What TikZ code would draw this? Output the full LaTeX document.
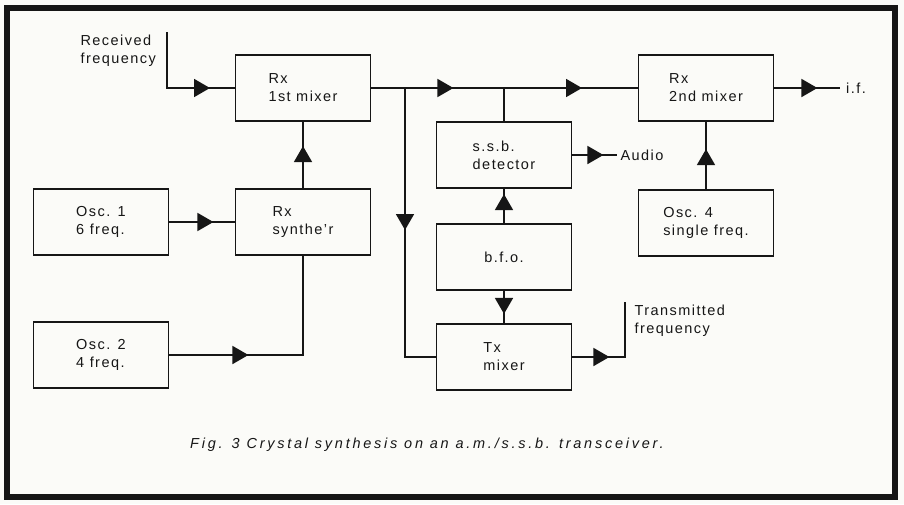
\documentclass[tikz,border=0pt]{standalone}
\usepackage{fontspec}
\setmainfont{Liberation Sans}[LetterSpace=10]
\usepackage{tikz}
\usetikzlibrary{arrows.meta, positioning, decorations.markings}
\definecolor{myink}{RGB}{22,22,22}
\definecolor{mypaper}{RGB}{251,251,248}
\tikzset{
  block/.style={rectangle, draw=myink, text=myink,
    minimum width=135pt, minimum height=66pt, align=left,
    font=\fontsize{14.5}{18}\selectfont, line width=1.8pt},
  wire/.style={line width=1.8pt, color=myink},
  midarrow/.style={postaction={decorate}, decoration={markings,
    mark=at position #1 with {\arrow{Triangle[length=16pt, width=18pt]}}}}
}

\begin{document}
\begin{tikzpicture}[x=1pt, y=-1pt,
  lbl/.style={font=\fontsize{14.5}{18}\selectfont, text=myink, align=left}
]
\useasboundingbox (0,0) rectangle (904,504);
\fill[mypaper] (0,0) rectangle (904,504);
\draw[myink, line width=6pt] (7,8) rectangle (895,497);

% Receiver chain
\node[block] (mix1) at (303,88) {Rx\\1st mixer};
\node[block] (mix2) at (706,88) {Rx\\2nd mixer};
\node[block] (synth) at (303,222) {Rx\\synthe'r};
\node[block] (osc1) at (101,222) {Osc. 1\\6 freq.};
\node[block] (osc2) at (101,355) {Osc. 2\\4 freq.};
\node[block] (osc4) at (706,223) {Osc. 4\\single freq.};

% Detector and transmit side
\node[block] (ssb) at (504,155) {s.s.b.\\detector};
\node[block] (bfo) at (504,257) {b.f.o.};
\node[block] (tx) at (504,357) {Tx\\mixer};

% Free ends and labels
\coordinate (rxin) at (167,32);
\coordinate (txout) at (625,302);
\coordinate (j1) at (405,88);
\coordinate (j2) at (504,88);
\node[lbl, anchor=north west] (rxlbl) at (77,31) {Received\\frequency};
\node[lbl, anchor=north west] (txlbl) at (631,301) {Transmitted\\frequency};
\node[lbl, anchor=west] (audio) at (617,155) {Audio};
\node[lbl, anchor=west, inner xsep=6pt] (ifout) at (840,88) {i.f.};

% Connections
\draw[wire, midarrow=99pt] (rxin) |- (mix1.west);
\draw[wire, midarrow=82pt] (mix1.east) -- (j2);
\draw[wire, midarrow=78pt] (j2) -- (mix2.west);
\draw[wire, midarrow=142pt] (j1) |- (tx.west);
\draw[wire] (j2) -- (ssb.north);
\draw[wire, midarrow=31pt] (ssb.east) -- (audio.west);
\draw[wire, midarrow=29pt] (bfo.north) -- (ssb.south);
\draw[wire, midarrow=23pt] (bfo.south) -- (tx.north);
\draw[wire, midarrow=37pt] (tx.east) -| (txout);
\draw[wire, midarrow=43pt] (mix2.east) -- (ifout.west);
\draw[wire, midarrow=40pt] (osc4.north) -- (mix2.south);
\draw[wire, midarrow=42pt] (synth.north) -- (mix1.south);
\draw[wire, midarrow=44pt] (osc1.east) -- (synth.west);
\draw[wire, midarrow=79pt] (osc2.east) -| (synth.south);

% Caption
\node[lbl, font=\fontsize{14.5}{18}\selectfont\itshape\addfontfeature{LetterSpace=19}] (caption) at (427,445)
  {Fig. 3 Crystal synthesis on an a.m./s.s.b. transceiver.};
\end{tikzpicture}
\end{document}
